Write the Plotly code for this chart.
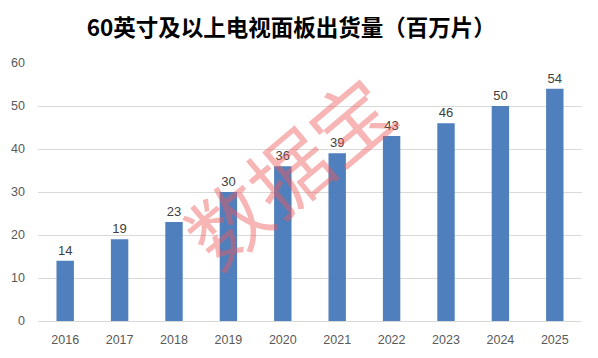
import plotly.graph_objects as go

years = ["2016", "2017", "2018", "2019", "2020", "2021", "2022", "2023", "2024", "2025"]
values = [14, 19, 23, 30, 36, 39, 43, 46, 50, 54]
title = "60英寸及以上电视面板出货量（百万片）"
watermark = "数据宝"

fig = go.Figure(go.Bar(
    x=years, y=values,
    marker=dict(color="#4f7fbd", line=dict(width=0)),
    text=[str(v) for v in values], textposition="outside",
    textfont=dict(size=13, color="#404040", family="Liberation Sans, Arial"),
    cliponaxis=False,
))

fig.update_layout(
    width=590, height=350,
    margin=dict(l=30, r=16, t=55, b=37),
    paper_bgcolor="white", plot_bgcolor="white",
    bargap=0.68,
    showlegend=False,
    title=dict(text="<b>" + title + "</b>", x=0.48, xanchor="center", y=0.943, yanchor="middle",
               font=dict(size=22.5, color="#000000", family="Noto Sans CJK SC")),
    font=dict(family="Liberation Sans, Arial", size=12, color="#595959"),
)
fig.update_xaxes(showgrid=False, showline=True, linecolor="#d9d9d9", ticks="", automargin=False,
                 ticklabelstandoff=7, tickfont=dict(size=12.5, color="#595959"))
fig.update_yaxes(range=[0, 60], dtick=10, showgrid=True, gridcolor="#d9d9d9", gridwidth=1,
                 zeroline=False, showline=False, ticks="", ticklabelstandoff=12, automargin=False,
                 tickfont=dict(size=12.5, color="#595959"))

fig.add_annotation(text=watermark, xref="paper", yref="paper", x=0.458, y=0.59,
                   showarrow=False, textangle=-40,
                   font=dict(size=80, color="rgba(240,90,90,0.45)", family="Noto Sans CJK SC"))

fig.write_html("out.html")
